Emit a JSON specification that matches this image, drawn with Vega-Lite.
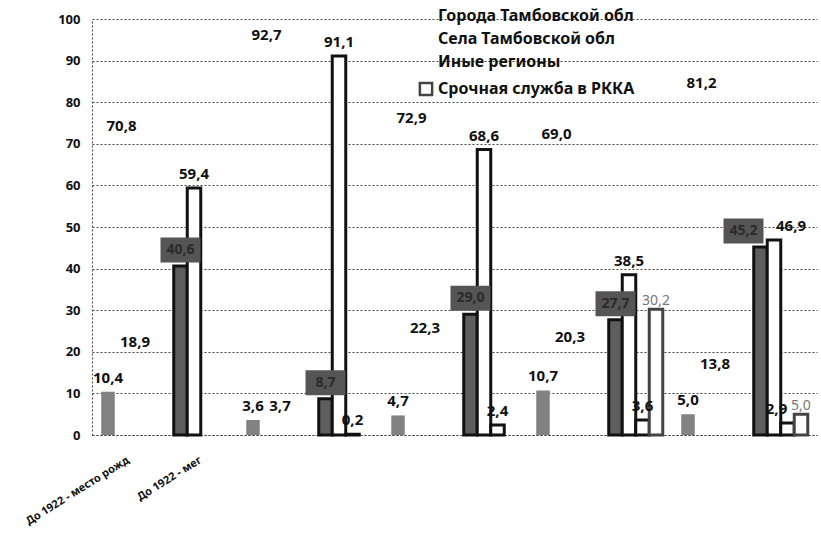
{
  "$schema": "https://vega.github.io/schema/vega-lite/v6.json",
  "width": 725,
  "height": 416,
  "autosize": {"type": "none"},
  "padding": {"left": 92, "top": 19, "right": 4, "bottom": 107},
  "background": "white",
  "config": {"view": {"stroke": null}, "font": "Noto Sans"},
  "data": {
    "values": [
      {"cat": "До 1922 - место рожд", "series": "Города Тамбовской обл", "value": 10.4},
      {"cat": "До 1922 - место рожд", "series": "Села Тамбовской обл", "value": 70.8},
      {"cat": "До 1922 - место рожд", "series": "Иные регионы", "value": 18.9},
      {"cat": "До 1922 - мег", "series": "Города Тамбовской обл", "value": 40.6},
      {"cat": "До 1922 - мег", "series": "Села Тамбовской обл", "value": 59.4},
      {"cat": "Период 2 - место рожд", "series": "Города Тамбовской обл", "value": 3.6},
      {"cat": "Период 2 - место рожд", "series": "Села Тамбовской обл", "value": 92.7},
      {"cat": "Период 2 - место рожд", "series": "Иные регионы", "value": 3.7},
      {"cat": "Период 2 - мег", "series": "Города Тамбовской обл", "value": 8.7},
      {"cat": "Период 2 - мег", "series": "Села Тамбовской обл", "value": 91.1},
      {"cat": "Период 2 - мег", "series": "Иные регионы", "value": 0.2},
      {"cat": "Период 3 - место рожд", "series": "Города Тамбовской обл", "value": 4.7},
      {"cat": "Период 3 - место рожд", "series": "Села Тамбовской обл", "value": 72.9},
      {"cat": "Период 3 - место рожд", "series": "Иные регионы", "value": 22.3},
      {"cat": "Период 3 - мег", "series": "Города Тамбовской обл", "value": 29.0},
      {"cat": "Период 3 - мег", "series": "Села Тамбовской обл", "value": 68.6},
      {"cat": "Период 3 - мег", "series": "Иные регионы", "value": 2.4},
      {"cat": "Период 4 - место рожд", "series": "Города Тамбовской обл", "value": 10.7},
      {"cat": "Период 4 - место рожд", "series": "Села Тамбовской обл", "value": 69.0},
      {"cat": "Период 4 - место рожд", "series": "Иные регионы", "value": 20.3},
      {"cat": "Период 4 - мег", "series": "Города Тамбовской обл", "value": 27.7},
      {"cat": "Период 4 - мег", "series": "Села Тамбовской обл", "value": 38.5},
      {"cat": "Период 4 - мег", "series": "Иные регионы", "value": 3.6},
      {"cat": "Период 4 - мег", "series": "Срочная служба в РККА", "value": 30.2},
      {"cat": "Период 5 - место рожд", "series": "Города Тамбовской обл", "value": 5.0},
      {"cat": "Период 5 - место рожд", "series": "Села Тамбовской обл", "value": 81.2},
      {"cat": "Период 5 - место рожд", "series": "Иные регионы", "value": 13.8},
      {"cat": "Период 5 - мег", "series": "Города Тамбовской обл", "value": 45.2},
      {"cat": "Период 5 - мег", "series": "Села Тамбовской обл", "value": 46.9},
      {"cat": "Период 5 - мег", "series": "Иные регионы", "value": 2.9},
      {"cat": "Период 5 - мег", "series": "Срочная служба в РККА", "value": 5.0}
    ]
  },
  "transform": [
    {"calculate": "replace(format(datum.value, '.1f'), '.', ',')", "as": "label"}
  ],
  "encoding": {
    "x": {
      "field": "cat",
      "type": "nominal",
      "title": null,
      "scale": {
        "domain": ["До 1922 - место рожд", "До 1922 - мег", "Период 2 - место рожд", "Период 2 - мег", "Период 3 - место рожд", "Период 3 - мег", "Период 4 - место рожд", "Период 4 - мег", "Период 5 - место рожд", "Период 5 - мег"],
        "paddingInner": 0.255,
        "paddingOuter": 0.1275
      },
      "axis": {
        "labelAngle": -32,
        "labelAlign": "right",
        "labelBaseline": "middle",
        "ticks": false,
        "domainDash": [2, 2],
        "domainColor": "#444444",
        "labelFontSize": 11,
        "labelFontWeight": "bold",
        "labelColor": "#111111",
        "labelPadding": 24,
        "labelLimit": 0,
        "labelOverlap": false,
        "labelExpr": "indexof(datum.label, 'До 1922') === 0 ? datum.label : ''"
      }
    },
    "xOffset": {
      "field": "series",
      "type": "nominal",
      "scale": {
        "domain": ["Города Тамбовской обл", "Села Тамбовской обл", "Иные регионы", "Срочная служба в РККА"],
        "paddingInner": 0,
        "paddingOuter": 0
      }
    },
    "y": {
      "field": "value",
      "type": "quantitative",
      "title": null,
      "scale": {"domain": [0, 100]},
      "axis": {
        "values": [0, 10, 20, 30, 40, 50, 60, 70, 80, 90, 100],
        "grid": true,
        "gridDash": [2, 2],
        "gridColor": "#444444",
        "ticks": false,
        "domainDash": [2, 2],
        "domainColor": "#444444",
        "labelFontSize": 13,
        "labelFontWeight": "bold",
        "labelColor": "#111111",
        "labelPadding": 12
      }
    }
  },
  "layer": [
    {
      "mark": {"type": "bar", "strokeWidth": 3},
      "encoding": {
        "fill": {
          "field": "series",
          "type": "nominal",
          "condition": [
            {"test": "indexof(datum.cat, 'место') >= 0 && datum.series !== 'Города Тамбовской обл'", "value": "transparent"},
            {"test": "indexof(datum.cat, 'место') >= 0", "value": "#828282"}
          ],
          "scale": {
            "domain": ["Города Тамбовской обл", "Села Тамбовской обл", "Иные регионы", "Срочная служба в РККА"],
            "range": ["#5e5e5e", "#ffffff", "#ffffff", "#ffffff"]
          },
          "legend": {
            "orient": "none",
            "legendX": 326,
            "legendY": -11,
            "title": null,
            "padding": 0,
            "symbolType": "square",
            "symbolSize": 150,
            "symbolStrokeColor": "#333333",
            "symbolStrokeWidth": 2.5,
            "labelFontSize": 16,
            "labelFontWeight": "bold",
            "labelColor": "#111111",
            "labelOffset": 4,
            "labelLimit": 0,
            "rowPadding": 7,
            "encode": {
              "symbols": {
                "update": {
                  "opacity": {"signal": "datum.value === 'Срочная служба в РККА' ? 1 : 0"}
                }
              }
            }
          }
        },
        "stroke": {
          "field": "series",
          "type": "nominal",
          "condition": {"test": "indexof(datum.cat, 'место') >= 0", "value": "transparent"},
          "scale": {
            "domain": ["Города Тамбовской обл", "Села Тамбовской обл", "Иные регионы", "Срочная служба в РККА"],
            "range": ["#111111", "#111111", "#111111", "#444444"]
          },
          "legend": null
        }
      }
    },
    {
      "transform": [{"filter": "datum.series === 'Города Тамбовской обл' && indexof(datum.cat, 'мег') >= 0 && datum.cat !== 'Период 5 - мег'"}],
      "layer": [
        {
          "mark": {"type": "point", "shape": "M-1,-0.625L1,-0.625L1,0.625L-1,0.625Z", "size": 1600, "filled": true, "color": "#555555", "opacity": 1, "yOffset": -16},
          "encoding": {}
        },
        {
          "mark": {"type": "text", "dy": -16, "baseline": "middle", "fontSize": 14, "fontWeight": "bold", "color": "#2a2a2a"},
          "encoding": {"text": {"field": "label"}}
        }
      ]
    },
    {
      "transform": [{"filter": "datum.series === 'Города Тамбовской обл' && datum.cat === 'Период 5 - мег'"}],
      "layer": [
        {
          "mark": {"type": "point", "shape": "M-1.85,-0.625L0.15,-0.625L0.15,0.625L-1.85,0.625Z", "size": 1600, "filled": true, "color": "#555555", "opacity": 1, "yOffset": -16},
          "encoding": {}
        },
        {
          "mark": {"type": "text", "dy": -16, "dx": -17, "baseline": "middle", "fontSize": 14, "fontWeight": "bold", "color": "#2a2a2a"},
          "encoding": {"text": {"field": "label"}}
        }
      ]
    },
    {
      "transform": [{"filter": "!(datum.series === 'Города Тамбовской обл' && indexof(datum.cat, 'мег') >= 0) && datum.series !== 'Срочная служба в РККА' && datum.cat !== 'Период 5 - мег'"}],
      "mark": {"type": "text", "dy": -9, "baseline": "alphabetic", "fontSize": 15, "fontWeight": "bold", "color": "#111111"},
      "encoding": {"text": {"field": "label"}}
    },
    {
      "transform": [{"filter": "datum.series === 'Села Тамбовской обл' && datum.cat === 'Период 5 - мег'"}],
      "mark": {"type": "text", "dy": -9, "dx": 17, "baseline": "alphabetic", "fontSize": 15, "fontWeight": "bold", "color": "#111111"},
      "encoding": {"text": {"field": "label"}}
    },
    {
      "transform": [{"filter": "datum.series === 'Иные регионы' && datum.cat === 'Период 5 - мег'"}],
      "mark": {"type": "text", "dy": -9, "dx": -11, "baseline": "alphabetic", "fontSize": 15, "fontWeight": "bold", "color": "#111111"},
      "encoding": {"text": {"field": "label"}}
    },
    {
      "transform": [{"filter": "datum.series === 'Срочная служба в РККА'"}],
      "mark": {"type": "text", "dy": -4, "baseline": "alphabetic", "fontSize": 14, "fontWeight": "normal", "color": "#777777"},
      "encoding": {"text": {"field": "label"}}
    }
  ]
}
